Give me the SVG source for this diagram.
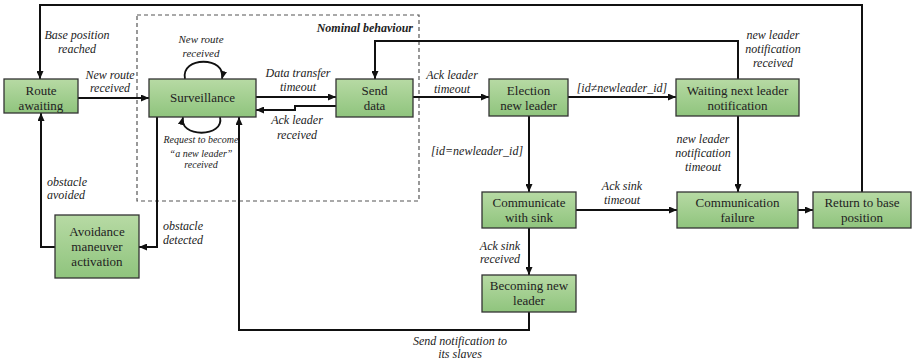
<svg xmlns="http://www.w3.org/2000/svg" width="912" height="363" viewBox="0 0 912 363">
  <style>
    .box { stroke: #333; stroke-width: 1.3; fill: url(#boxFill); }
    .name { font-family: 'Liberation Serif', Tinos, 'Nimbus Roman', 'Nimbus Roman No9 L', 'Noto Serif', FreeSerif, 'Times New Roman', Times, 'DejaVu Serif', serif; font-size: 13px; fill: #222; text-anchor: middle; }
    .lbl { font-family: 'Liberation Serif', Tinos, 'Nimbus Roman', 'Nimbus Roman No9 L', 'Noto Serif', FreeSerif, 'Times New Roman', Times, 'DejaVu Serif', serif; font-size: 12px; font-style: italic; fill: #222; text-anchor: middle; }
    .lbl11 { font-size: 11px; }
    .lbl10 { font-size: 10px; }
    .left { text-anchor: start; }
    .edge { fill: none; stroke: #111; stroke-width: 2; marker-end: url(#arrow); }
    .loop { fill: none; stroke: #111; stroke-width: 1.8; marker-end: url(#arrow); }
    .frame { fill: none; stroke: #555; stroke-width: 1.2; stroke-dasharray: 4 3; }
  </style>
  <defs>
    <linearGradient id="boxFill" x1="0" y1="0" x2="0" y2="1">
      <stop offset="0" stop-color="#b7daa4"/>
      <stop offset="1" stop-color="#8fc47d"/>
    </linearGradient>
    <marker id="arrow" viewBox="0 0 8 7" refX="8" refY="3.5" markerWidth="8" markerHeight="7" markerUnits="userSpaceOnUse" orient="auto">
      <path d="M0,0 L8,3.5 L0,7 z" fill="#111"/>
    </marker>
  </defs>

  <!-- nominal behaviour frame -->
  <g id="nominal-frame">
    <rect class="frame" x="137" y="15" width="282" height="186"/>
    <text x="413" y="32" class="lbl" style="text-anchor:end;font-weight:bold">Nominal behaviour</text>
  </g>

  <!-- transitions -->
  <g id="connectors">
    <path class="edge" d="M862,192 V5 H40 V79"/>
    <path class="edge" d="M78,98 H149"/>
    <path class="edge" d="M256,97 H336"/>
    <path class="edge" d="M336,106 H295 V110 H256"/>
    <path class="edge" d="M413,97 H489"/>
    <path class="edge" d="M568,97 H676"/>
    <path class="edge" d="M738,79 V41 H375 V79"/>
    <path class="edge" d="M738,116 V192"/>
    <path class="edge" d="M529,116 V192"/>
    <path class="edge" d="M576,210 H677"/>
    <path class="edge" d="M798,210 H813"/>
    <path class="edge" d="M529,228 V275"/>
    <path class="edge" d="M529,312 V330 H239 V117"/>
    <path class="edge" d="M157,117 V247 H139"/>
    <path class="edge" d="M55,247 H41 V113"/>
    <path class="loop" d="M185,79 C180,56 227,56 222,79"/>
    <path class="loop" d="M220,117 C225,138 178,138 183,117"/>

    <text class="lbl" x="77" y="39">Base position</text>
    <text class="lbl" x="77" y="53">reached</text>
    <text class="lbl" x="110" y="79">New route</text>
    <text class="lbl" x="110" y="92">received</text>
    <text class="lbl lbl11" x="201" y="43">New route</text>
    <text class="lbl lbl11" x="201" y="57">received</text>
    <text class="lbl lbl10" x="201" y="143">Request to become</text>
    <text class="lbl lbl10" x="201" y="157">“a new leader”</text>
    <text class="lbl lbl10" x="201" y="168">received</text>
    <text class="lbl" x="298" y="77">Data transfer</text>
    <text class="lbl" x="298" y="91">timeout</text>
    <text class="lbl" x="297" y="124">Ack leader</text>
    <text class="lbl" x="297" y="139">received</text>
    <text class="lbl" x="452" y="79">Ack leader</text>
    <text class="lbl" x="452" y="93">timeout</text>
    <text class="lbl" x="622" y="92">[id≠newleader_id]</text>
    <text class="lbl" x="773" y="39">new leader</text>
    <text class="lbl" x="773" y="53">notification</text>
    <text class="lbl" x="773" y="67">received</text>
    <text class="lbl" x="477" y="155">[id=newleader_id]</text>
    <text class="lbl" x="703" y="143">new leader</text>
    <text class="lbl" x="703" y="157">notification</text>
    <text class="lbl" x="703" y="171">timeout</text>
    <text class="lbl" x="622" y="190">Ack sink</text>
    <text class="lbl" x="622" y="204">timeout</text>
    <text class="lbl" x="500" y="250">Ack sink</text>
    <text class="lbl" x="500" y="263">received</text>
    <text class="lbl" x="460" y="345">Send notification to</text>
    <text class="lbl" x="460" y="358">its slaves</text>
    <text class="lbl left" x="47" y="186">obstacle</text>
    <text class="lbl left" x="47" y="199">avoided</text>
    <text class="lbl left" x="163" y="230">obstacle</text>
    <text class="lbl left" x="163" y="244">detected</text>
  </g>

  <!-- states -->
  <g id="route-awaiting">
    <rect class="box" x="4" y="79" width="74" height="34"/>
    <text class="name" x="41" y="95">Route</text>
    <text class="name" x="41" y="110">awaiting</text>
  </g>
  <g id="surveillance">
    <rect class="box" x="149" y="79" width="107" height="38"/>
    <text class="name" x="202.5" y="102">Surveillance</text>
  </g>
  <g id="send-data">
    <rect class="box" x="336" y="79" width="77" height="38"/>
    <text class="name" x="374.5" y="95">Send</text>
    <text class="name" x="374.5" y="110">data</text>
  </g>
  <g id="election">
    <rect class="box" x="489" y="79" width="79" height="37"/>
    <text class="name" x="528.5" y="95">Election</text>
    <text class="name" x="528.5" y="110">new leader</text>
  </g>
  <g id="waiting">
    <rect class="box" x="676" y="79" width="123" height="37"/>
    <text class="name" x="737.5" y="95">Waiting next leader</text>
    <text class="name" x="737.5" y="110">notification</text>
  </g>
  <g id="communicate-sink">
    <rect class="box" x="482" y="192" width="94" height="36"/>
    <text class="name" x="529" y="207">Communicate</text>
    <text class="name" x="529" y="222">with sink</text>
  </g>
  <g id="communication-failure">
    <rect class="box" x="677" y="192" width="121" height="36"/>
    <text class="name" x="737.5" y="207">Communication</text>
    <text class="name" x="737.5" y="222">failure</text>
  </g>
  <g id="return-base">
    <rect class="box" x="813" y="192" width="98" height="36"/>
    <text class="name" x="862" y="207">Return to base</text>
    <text class="name" x="862" y="222">position</text>
  </g>
  <g id="becoming-leader">
    <rect class="box" x="482" y="275" width="94" height="37"/>
    <text class="name" x="529" y="290">Becoming new</text>
    <text class="name" x="529" y="305">leader</text>
  </g>
  <g id="avoidance">
    <rect class="box" x="55" y="215" width="84" height="63"/>
    <text class="name" x="97" y="236">Avoidance</text>
    <text class="name" x="97" y="251">maneuver</text>
    <text class="name" x="97" y="266">activation</text>
  </g>
</svg>
